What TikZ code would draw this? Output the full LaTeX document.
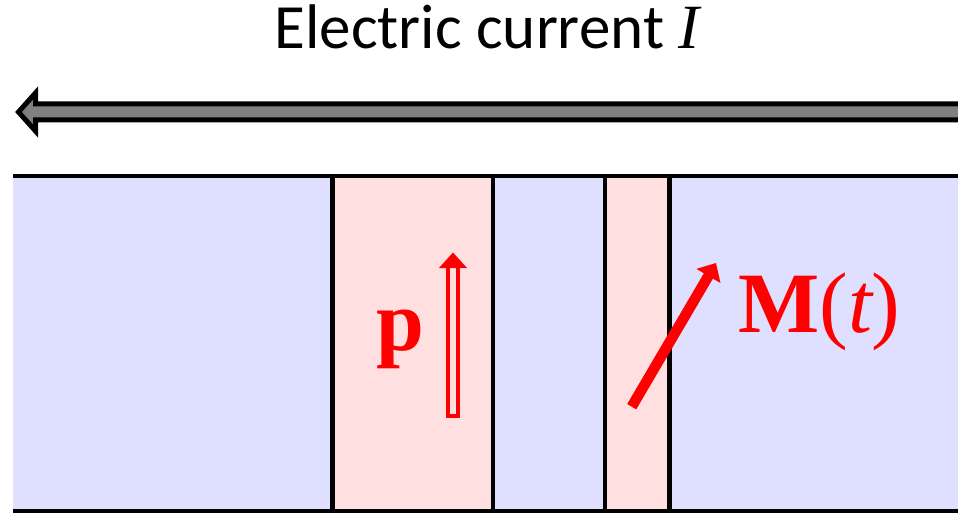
\documentclass[tikz,border=0pt]{standalone}
\usepackage{fontspec}
\setmainfont{Carlito}
\newfontfamily\serifface{Liberation Serif}
\usetikzlibrary{arrows.meta}
\definecolor{layerblue}{RGB}{223,223,255}
\definecolor{layerpink}{RGB}{255,223,223}
\definecolor{shaftgray}{RGB}{128,128,128}
\begin{document}
\begin{tikzpicture}[x=1pt,y=-1pt,
  border/.style={line width=4.5pt, black},
  vecred/.style={red},
  vecfont/.style={text=red, inner sep=0pt, font=\serifface\fontsize{86}{86}\selectfont}]
\useasboundingbox (0,0) rectangle (958,513);
\clip (0,0) rectangle (958,513);

% layers of the stack
\fill[layerblue] (13,176) rectangle (960,511);
\fill[layerpink] (332.5,176) rectangle (493,511);
\fill[layerpink] (605,176) rectangle (669.5,511);

% interfaces and outer edges
\draw[border] (13,176) -- (962,176);
\draw[border] (13,511) -- (962,511);
\foreach \x in {332.5,493,605,669.5}
  \draw[border] (\x,176) -- (\x,511);

% current arrow
\draw[line width=5pt, fill=shaftgray, line join=miter, miter limit=10]
  (965,104) -- (35.5,104) -- (35.5,93) -- (18.5,112) -- (35.5,131)
  -- (35.5,120) -- (965,120) -- cycle;
\node[anchor=base, inner sep=0pt, font=\fontsize{63}{63}\selectfont] (title)
  at (487,49) {Electric current {\serifface\itshape I}};

% polarization vector p: hollow shaft, solid head
\draw[vecred, line width=3.5pt, fill=layerpink]
  (448,416) rectangle (458,266);
\fill[vecred] (439,268) -- (453,252.5) -- (467,268) -- cycle;
\node[vecfont, anchor=base] (plabel) at (400,350) {\bfseries p};

% magnetization vector M(t)
\coordinate (mtail) at (631.7,406.7);
\coordinate (mtip) at (716,263);
\draw[vecred, line width=10.5pt, -{Triangle[length=15pt,width=27pt]}] (mtail) -- (mtip);
\node[vecfont, anchor=base west] (mlabel) at (738,332) {{\bfseries M}({\itshape t})};
\end{tikzpicture}
\end{document}
